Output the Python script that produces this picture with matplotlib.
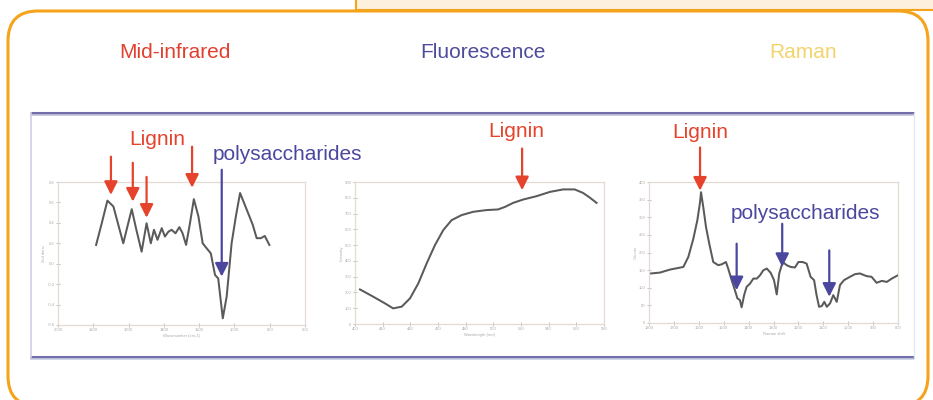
import matplotlib
matplotlib.use("Agg")
import matplotlib.pyplot as plt
from matplotlib.patches import FancyBboxPatch, Rectangle

plt.rcParams["font.family"] = ["Liberation Sans", "DejaVu Sans"]

# spectra, in axis-tick units
mir_x = [1.08, 1.24, 1.40, 1.57, 1.71, 1.85, 1.99, 2.09, 2.21, 2.37, 2.51, 2.63, 2.72, 2.82,
         2.94, 3.03, 3.13, 3.22, 3.33, 3.44, 3.53, 3.63, 3.74, 3.85, 3.98, 4.10, 4.21, 4.33,
         4.45, 4.54, 4.67, 4.78, 4.92, 5.04, 5.16, 5.35, 5.52, 5.63, 5.75, 5.86, 5.99]
mir_y = [3.92, 4.98, 6.09, 5.80, 4.90, 4.00, 4.98, 5.67, 4.74, 3.59, 4.98, 4.00, 4.66, 4.17,
         4.74, 4.33, 4.57, 4.66, 4.49, 4.79, 4.49, 3.92, 4.98, 6.16, 5.31, 4.00, 3.76, 3.51,
         2.45, 2.28, 0.33, 1.39, 4.00, 5.31, 6.46, 5.64, 4.90, 4.25, 4.25, 4.36, 3.92]

flu_x = [0.18, 0.66, 1.08, 1.38, 1.69, 1.99, 2.29, 2.59, 2.89, 3.19, 3.49, 3.85, 4.27, 4.75,
         5.17, 5.42, 5.72, 6.08, 6.56, 7.04, 7.52, 7.94, 8.24, 8.48, 8.73]
flu_y = [2.19, 1.73, 1.31, 0.99, 1.10, 1.63, 2.58, 3.84, 5.00, 5.95, 6.58, 6.90, 7.11, 7.22,
         7.26, 7.42, 7.68, 7.89, 8.10, 8.37, 8.53, 8.53, 8.31, 8.02, 7.68]

ram_x = [0.07, 0.44, 0.84, 1.38, 1.58, 1.78, 1.94, 2.05, 2.09, 2.18, 2.29, 2.42, 2.58, 2.78,
         2.92, 3.09, 3.18, 3.32, 3.45, 3.55, 3.65, 3.72, 3.82, 3.92, 4.06, 4.19, 4.33, 4.46,
         4.59, 4.73, 4.89, 5.02, 5.13, 5.23, 5.37, 5.53, 5.69, 5.86, 6.00, 6.17, 6.33, 6.49,
         6.63, 6.73, 6.83, 6.94, 7.04, 7.14, 7.27, 7.40, 7.54, 7.67, 7.83, 8.07, 8.27, 8.47,
         8.74, 8.94, 9.14, 9.35, 9.55, 9.75, 10.0]
ram_y = [2.81, 2.86, 3.03, 3.18, 3.75, 4.78, 5.82, 6.85, 7.42, 6.57, 5.44, 4.50, 3.46, 3.28,
         3.33, 3.46, 3.09, 2.43, 1.86, 1.40, 1.30, 0.89, 1.58, 2.05, 2.24, 2.52, 2.52, 2.71,
         2.99, 3.09, 2.84, 2.43, 1.62, 2.81, 3.46, 3.28, 3.18, 3.15, 3.46, 3.46, 3.37, 2.62,
         2.43, 1.58, 0.92, 0.96, 1.20, 0.92, 1.11, 1.58, 1.20, 2.15, 2.43, 2.62, 2.77, 2.81,
         2.66, 2.62, 2.28, 2.39, 2.33, 2.52, 2.71]

# tick labels (tiny, as printed on the small source plots)
mir_xticks = ["2000", "1800", "1600", "1400", "1200", "1000", "800", "600"]
mir_yticks = ["-0.6", "-0.4", "-0.2", "0.0", "0.2", "0.4", "0.6", "0.8"]
flu_xticks = ["400", "420", "440", "460", "480", "500", "520", "540", "560", "580"]
flu_yticks = ["0", "100", "200", "300", "400", "500", "600", "700", "800", "900"]
ram_xticks = ["1800", "1700", "1600", "1500", "1400", "1300", "1200", "1100", "1000", "900", "800"]
ram_yticks = ["0", "50", "100", "150", "200", "250", "300", "350", "400"]

# arrows: (x, y_start, y_tip)
mir_lignin = [(1.50, 8.24, 6.37), (2.12, 7.94, 6.04), (2.51, 7.25, 5.25), (3.80, 8.73, 6.72)]
mir_poly = [(4.64, 7.60, 2.37)]
flu_lignin = [(6.04, 11.12, 8.48)]
ram_lignin = [(2.05, 9.96, 7.51)]
ram_poly = [(3.52, 4.50, 1.86), (5.35, 5.63, 3.18), (7.24, 4.12, 1.49)]

RED = "#e5432c"
BLUE = "#4b479f"
W, H = 933, 400

fig = plt.figure(figsize=(W / 100, H / 100), dpi=100)

# decorative frame in pixel coordinates
bg = fig.add_axes([0, 0, 1, 1])
bg.set_xlim(0, W)
bg.set_ylim(H, 0)
bg.axis("off")
bg.add_patch(Rectangle((356, -5), 600, 15, facecolor="#fdf0dc", edgecolor="#f5a31a", lw=1.5))
bg.add_patch(FancyBboxPatch((8, 11), 920, 395, boxstyle="round,pad=0,rounding_size=30",
                            facecolor="white", edgecolor="#f5a31a", lw=2.2))
bg.plot([30, 914], [113, 113], color="#726fab", lw=2.2, solid_capstyle="butt")
bg.plot([30, 914], [115.3, 115.3], color="#c4c2de", lw=1.2, solid_capstyle="butt")
bg.plot([30, 914], [357, 357], color="#726fab", lw=2.2, solid_capstyle="butt")
bg.plot([30, 914], [359.3, 359.3], color="#c9cfe4", lw=1.2, solid_capstyle="butt")
bg.plot([30.5, 30.5], [113, 357], color="#cfcde3", lw=1.2)
bg.plot([913.5, 913.5], [113, 357], color="#e4e8f2", lw=1.0)

bg.text(175, 52, "Mid-infrared", color="#e2402f", fontsize=15, ha="center", va="center")
bg.text(483, 52, "Fluorescence", color="#4d4b9c", fontsize=15, ha="center", va="center")
bg.text(803, 52, "Raman", color="#f2d46c", fontsize=15, ha="center", va="center")


def spectrum_axes(left, right, top, bottom, xlab, ylab, xs, ys, xname, yname):
    ax = fig.add_axes([left / W, (H - bottom) / H, (right - left) / W, (bottom - top) / H])
    ax.plot(xs, ys, color="#5a5a5a", lw=1.45)
    ax.set_xlim(0, len(xlab) - 1)
    ax.set_ylim(0, len(ylab) - 1)
    ax.set_xticks(range(len(xlab)))
    ax.set_xticklabels(xlab)
    ax.set_yticks(range(len(ylab)))
    ax.set_yticklabels(ylab)
    ax.tick_params(direction="inout", length=3, width=0.6, color="#b5b5b5",
                   labelsize=3, labelcolor="#aaaaaa", pad=1)
    for s in ax.spines.values():
        s.set_color("#e3dad3")
        s.set_linewidth(0.9)
    ax.set_xlabel(xname, fontsize=3, color="#aaaaaa", labelpad=1)
    ax.set_ylabel(yname, fontsize=3, color="#aaaaaa", labelpad=1)
    ax.patch.set_alpha(0)
    return ax


def arrows(ax, marks, color):
    for x, y0, y1 in marks:
        ax.annotate("", xy=(x, y1), xytext=(x, y0), annotation_clip=False,
                    arrowprops=dict(arrowstyle="-|>", color=color, lw=1.6,
                                    mutation_scale=20, shrinkA=0, shrinkB=0))


ax1 = spectrum_axes(58, 305, 182, 325, mir_xticks, mir_yticks, mir_x, mir_y,
                    "Wavenumber (cm-1)", "2nd deriv.")
arrows(ax1, mir_lignin, RED)
arrows(ax1, mir_poly, BLUE)
ax1.text(2.80, 9.07, "Lignin", color=RED, fontsize=15, ha="center", va="center", clip_on=False)
ax1.text(6.49, 8.33, "polysaccharides", color=BLUE, fontsize=15, ha="center", va="center",
         clip_on=False)

ax2 = spectrum_axes(355, 604, 182, 324, flu_xticks, flu_yticks, flu_x, flu_y,
                    "Wavelength (nm)", "Intensity")
arrows(ax2, flu_lignin, RED)
ax2.text(5.84, 12.17, "Lignin", color=RED, fontsize=15, ha="center", va="center", clip_on=False)

ax3 = spectrum_axes(649, 898, 182, 323, ram_xticks, ram_yticks, ram_x, ram_y,
                    "Raman shift", "Counts")
arrows(ax3, ram_lignin, RED)
arrows(ax3, ram_poly, BLUE)
ax3.text(2.05, 10.81, "Lignin", color=RED, fontsize=15, ha="center", va="center", clip_on=False)
ax3.text(6.27, 6.20, "polysaccharides", color=BLUE, fontsize=15, ha="center", va="center",
         clip_on=False)

fig.savefig("out.png", dpi=100)
